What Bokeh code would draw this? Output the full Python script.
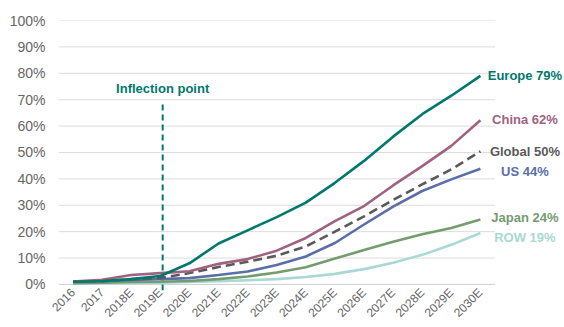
import math
from bokeh.plotting import figure
from bokeh.models import Range1d, FixedTicker, PrintfTickFormatter
from bokeh.core.properties import value
from bokeh.embed import file_html
from bokeh.resources import INLINE

# ---- data (percent) ----
years = ["2016", "2017", "2018E", "2019E", "2020E", "2021E", "2022E", "2023E",
         "2024E", "2025E", "2026E", "2027E", "2028E", "2029E", "2030E"]
europe = [1.0, 1.3, 2.0, 3.2, 8.0, 15.5, 20.5, 25.5, 31.0, 38.5, 46.8, 56.0, 64.5, 71.5, 79.0]
china = [1.1, 1.8, 3.6, 4.3, 5.0, 7.8, 9.6, 12.8, 17.6, 24.0, 29.7, 37.5, 44.8, 52.5, 62.2]
global_ = [1.0, 1.2, 2.0, 2.4, 4.3, 6.6, 8.6, 10.9, 14.4, 20.0, 25.8, 32.0, 37.9, 43.6, 50.4]
us = [1.0, 1.2, 1.7, 2.0, 2.4, 3.6, 4.9, 7.4, 10.6, 15.7, 22.7, 29.5, 35.4, 39.8, 43.8]
japan = [0.5, 0.7, 0.9, 1.0, 1.3, 2.0, 3.0, 4.5, 6.5, 9.8, 13.0, 16.2, 19.0, 21.4, 24.6]
row = [0.4, 0.5, 0.6, 0.7, 0.9, 1.2, 1.6, 2.0, 2.8, 4.0, 5.8, 8.2, 11.2, 15.0, 19.5]
series_names = ["ROW", "Japan", "US", "Global", "China", "Europe"]
end_labels = ["ROW 19%", "Japan 24%", "US 44%", "Global 50%", "China 62%", "Europe 79%"]
y_ticks = [0, 10, 20, 30, 40, 50, 60, 70, 80, 90, 100]
inflection_label = "Inflection point"
inflection_index = 3.08
inflection_top = 68.6

# ---- styling ----
colors = {"Europe": "#00786D", "China": "#A1617F", "Global": "#5A5A5A",
          "US": "#5A6EA8", "Japan": "#749C6E", "ROW": "#A8D9D4"}
label_dy = {"Europe": 0.0, "China": 0.2, "Global": 0.0, "US": -0.9, "Japan": 0.7, "ROW": -1.9}
data = {"ROW": row, "Japan": japan, "US": us, "Global": global_, "China": china, "Europe": europe}

FONT = value("Liberation Sans")
xs = list(range(len(years)))
Y_START = -2.3

p = figure(width=564, height=327, output_backend="svg", toolbar_location=None,
           x_range=Range1d(-0.5, 16.89), y_range=Range1d(Y_START, 100),
           min_border_left=58, min_border_right=0, min_border_top=20, min_border_bottom=0)
p.outline_line_color = None
p.background_fill_color = "white"
p.border_fill_color = "white"
p.xgrid.visible = False
p.ygrid.visible = False

# grid lines limited to plotting band
grid_y = [t for t in y_ticks if t > 0]
p.segment(x0=[-0.5] * len(grid_y), x1=[14.5] * len(grid_y), y0=grid_y, y1=grid_y,
          line_color="#DCDCDC", line_width=1)
p.segment(x0=[-0.5], x1=[14.5], y0=[0], y1=[0], line_color="#CFCFCF", line_width=1)

# axes
p.xaxis.ticker = FixedTicker(ticks=xs)
p.xaxis.major_label_overrides = {i: y for i, y in enumerate(years)}
p.xaxis.major_label_orientation = math.pi / 4
p.xaxis.axis_line_color = None
p.xaxis.major_tick_line_color = None
p.xaxis.minor_tick_line_color = None
p.xaxis.major_tick_out = 0
p.xaxis.minor_tick_out = 0
p.xaxis.major_label_standoff = 0
p.xaxis.major_label_text_font = "Liberation Sans"
p.xaxis.major_label_text_font_size = "12px"
p.xaxis.major_label_text_color = "#666666"

p.yaxis.ticker = FixedTicker(ticks=y_ticks)
p.yaxis.formatter = PrintfTickFormatter(format="%d%%")
p.yaxis.axis_line_color = None
p.yaxis.major_tick_line_color = None
p.yaxis.minor_tick_line_color = None
p.yaxis.major_tick_out = 0
p.yaxis.minor_tick_out = 0
p.yaxis.major_label_standoff = 13
p.yaxis.major_label_text_font = "Liberation Sans"
p.yaxis.major_label_text_font_size = "14px"
p.yaxis.major_label_text_color = "#666666"

# inflection line
p.line(x=[inflection_index, inflection_index], y=[Y_START, inflection_top],
       line_color=colors["Europe"], line_width=2, line_dash="6 4")
p.text(x=[inflection_index], y=[74.2], text=[inflection_label], text_font=FONT,
       text_font_style="bold", text_font_size="13px", text_color=colors["Europe"],
       text_align="center", text_baseline="middle")

# series
for name in series_names:
    vals = data[name]
    kw = dict(line_color=colors[name], line_width=2.6)
    if name == "Global":
        kw["line_dash"] = "9 5"
    p.line(x=xs, y=vals, **kw)

# end labels
for name, lab in zip(series_names, end_labels):
    p.text(x=[15.53], y=[data[name][-1] + label_dy[name]], text=[lab], text_font=FONT,
           text_font_style="bold", text_font_size="13px", text_color=colors[name],
           text_align="center", text_baseline="middle")

open("out.html", "w").write(file_html(p, INLINE))
